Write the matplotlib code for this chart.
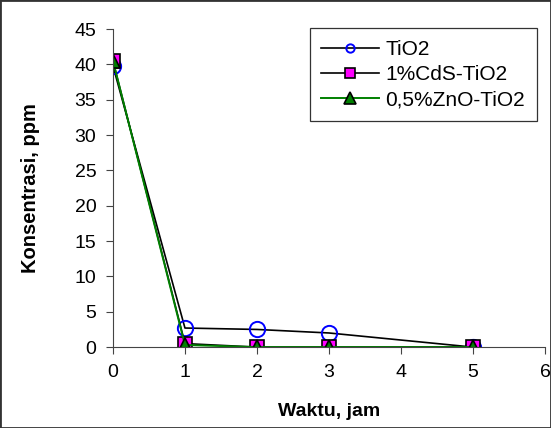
import matplotlib.pyplot as plt

plt.rcParams['font.family'] = ['Liberation Sans', 'DejaVu Sans']

waktu = [0, 1, 2, 3, 5]
tio2 = [39.8, 2.7, 2.5, 2.0, 0.0]
cds_tio2 = [40.5, 0.5, 0.0, 0.0, 0.0]
zno_tio2 = [40.5, 0.3, 0.0, 0.0, 0.0]

fig = plt.figure(figsize=(5.51, 4.28), dpi=100)
ax = fig.add_axes([0.205, 0.189, 0.784, 0.743])

ax.plot(waktu, tio2, color='black', lw=1.2, marker='o', ms=11,
        mfc='none', mec='blue', mew=1.4, label='TiO2')
ax.plot(waktu, cds_tio2, color='black', lw=1.2, marker='s', ms=10,
        mfc='magenta', mec='black', mew=1.2, label='1%CdS-TiO2')
ax.plot(waktu, zno_tio2, color='green', lw=1.4, marker='^', ms=10,
        mfc='green', mec='black', mew=1.2, label='0,5%ZnO-TiO2')

ax.set_xlim(0, 6)
ax.set_ylim(0, 45)
ax.set_xticks(range(0, 7))
ax.set_yticks(range(0, 46, 5))
for s in ['top', 'right']:
    ax.spines[s].set_visible(False)
ax.spines['left'].set_color('#444444')
ax.spines['bottom'].set_color('#444444')
ax.tick_params(labelsize=14, length=5, direction='out', pad=7, color='#444444')
ax.set_xlabel('Waktu, jam', fontsize=14, fontweight='bold', labelpad=16)
ax.set_ylabel('Konsentrasi, ppm', fontsize=14.5, fontweight='bold', labelpad=25)

leg = ax.legend(loc='upper right', bbox_to_anchor=(1.005, 1.035), fontsize=15,
                frameon=True, fancybox=False, edgecolor='black',
                handlelength=2.8, borderpad=0.55,
                labelspacing=0.3, handletextpad=0.3)
leg.get_frame().set_linewidth(0.9)
# ukuran marker di legenda
for h, ms in zip(leg.legend_handles, [6, 7, 9]):
    h.set_markersize(ms)

fig.patches.append(plt.Rectangle((0, 0), 1, 1, transform=fig.transFigure,
                                 fill=False, edgecolor='#333333', lw=2))

fig.savefig('out.png', dpi=100)
